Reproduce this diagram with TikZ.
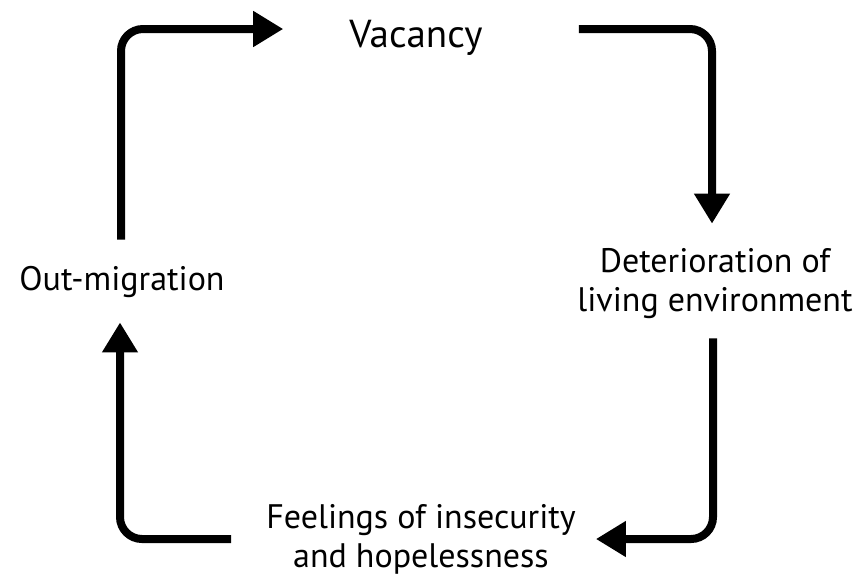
\documentclass[tikz,border=0pt]{standalone}
\usepackage{fontspec}
\setmainfont{PT Sans}
\usetikzlibrary{arrows.meta}
\tikzset{
  lbl/.style={inner sep=0pt, align=center, font=\fontsize{34}{39}\selectfont},
  arr/.style={line width=8pt, -{Triangle[length=30pt,width=34pt]}, rounded corners=22pt}
}
\begin{document}
\begin{tikzpicture}[x=1pt,y=-1pt]
\useasboundingbox (0,0) rectangle (859,582);
\node[lbl, anchor=base, font=\fontsize{39}{44}\selectfont] (vac) at (416,47) {Vacancy};
\node[lbl, anchor=base] (om) at (122,290) {Out-migration};
\node[lbl] (det) at (715,284) {Deterioration of\\living environment};
\node[lbl] (feel) at (421,539) {Feelings of insecurity\\and hopelessness};
\draw[arr, shorten <=26pt, shorten >=66pt] ([xshift=-1pt]om.north) |- ([yshift=18pt]vac.base west);
\draw[arr, shorten <=96pt, shorten >=25pt] ([yshift=18pt]vac.base east) -| ([xshift=-3pt]det.north);
\draw[arr, shorten <=19pt, shorten >=20pt] ([xshift=-2pt]det.south) |- (feel.east);
\draw[arr, shorten <=35pt, shorten >=25pt] (feel.west) -| ([xshift=-2pt]om.south);
\end{tikzpicture}
\end{document}
